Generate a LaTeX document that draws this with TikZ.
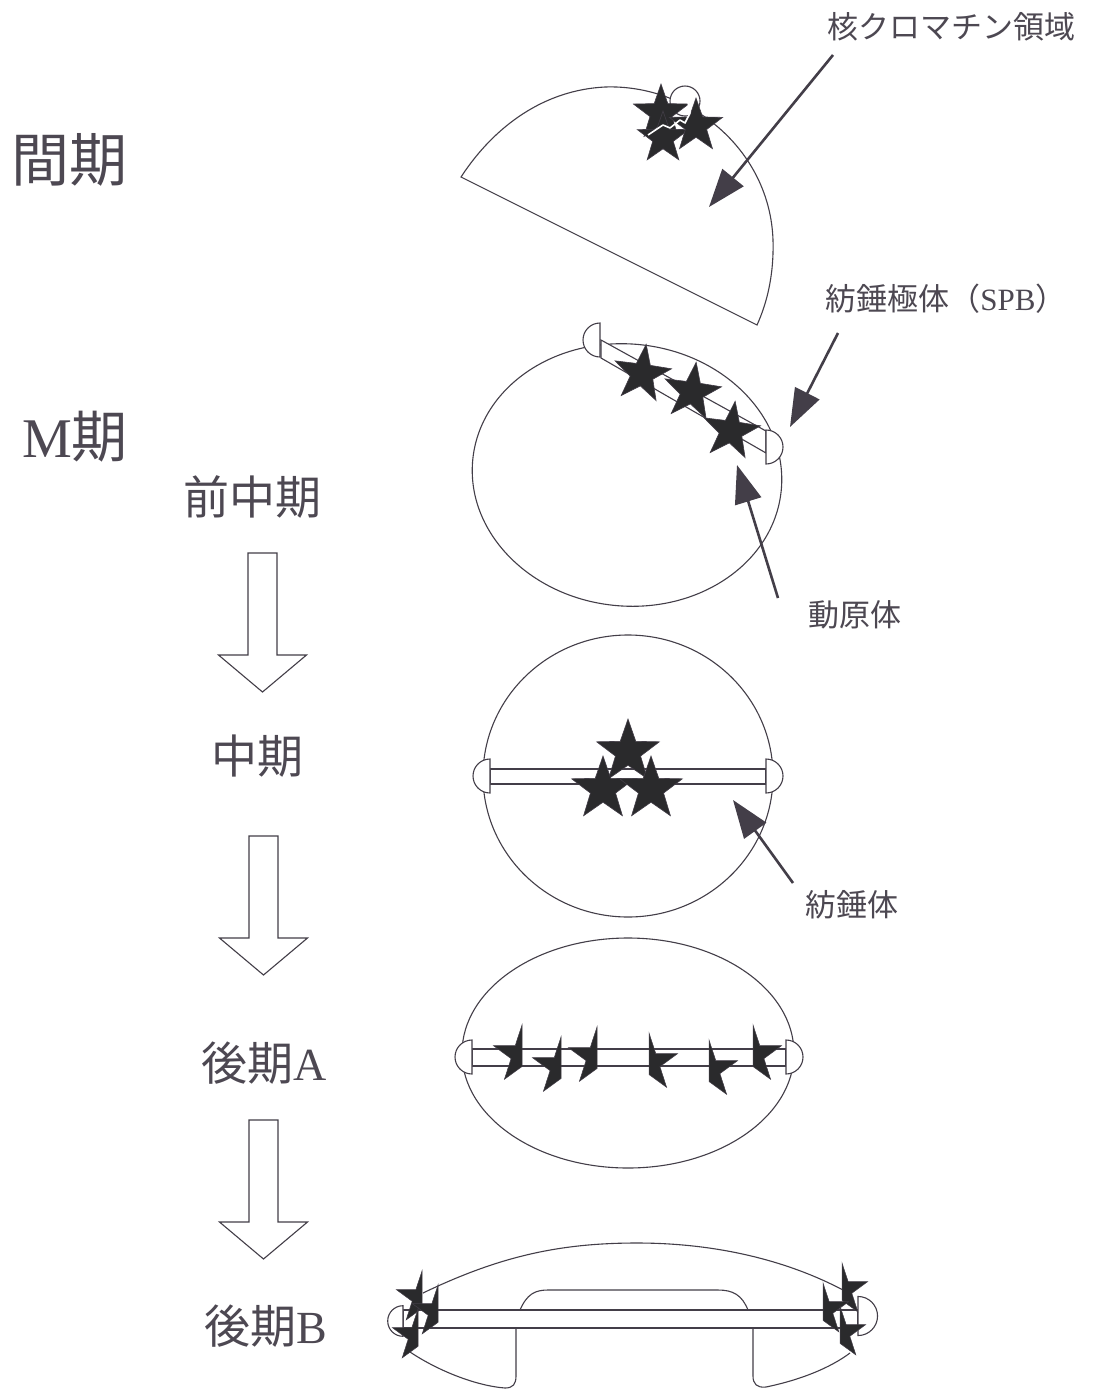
\documentclass[tikz,border=0pt]{standalone}
\usepackage{fontspec}
\setmainfont{Liberation Serif}
\newfontfamily\jp{Noto Sans CJK JP}
\usetikzlibrary{shapes.geometric,arrows.meta}
\definecolor{ink}{HTML}{433E48}
\definecolor{starfill}{HTML}{2A2A2C}
\definecolor{txt}{HTML}{4D4852}

\tikzset{
  cell/.style={draw=ink, line width=1.1pt},
  outline/.style={draw=ink, line width=1.1pt, fill=white},
  chromo/.style={star, star points=5, star point ratio=2.5, fill=starfill,
    draw=ink, line width=0.6pt, inner sep=0pt},
  ptr/.style={draw=ink, line width=2.6pt, -{Triangle[length=38pt,width=27pt]}},
  phase/.style={text=txt, inner sep=0pt},
  lbl/.style={text=txt, inner sep=0pt, font=\jp\fontsize{31}{33}\selectfont},
  % hollow block arrow between the phase names
  downarrow/.pic={
    \draw[outline] (-14.5,0) -- (-14.5,102) -- (-44,102) -- (0,139)
      -- (44,102) -- (14.5,102) -- (14.5,0) -- cycle;},
  % left and right halves of a separated chromosome star
  halfL/.pic={
    \draw[fill=starfill, draw=ink, line width=0.5pt] (0,-30) -- (-6.8,-9.3) -- (-28.5,-9.3)
      -- (-10.9,3.6) -- (-17.6,24.3) -- (0,11.5) -- cycle;},
  halfR/.pic={
    \draw[fill=starfill, draw=ink, line width=0.5pt] (0,-30) -- (6.8,-9.3) -- (28.5,-9.3)
      -- (10.9,3.6) -- (17.6,24.3) -- (0,11.5) -- cycle;},
  % spindle pole bodies: half discs with the flat side facing the spindle
  spbL/.pic={
    \draw[outline] (0,-17) arc[start angle=270, end angle=90, radius=17] -- cycle;},
  spbR/.pic={
    \draw[outline] (0,-17) arc[start angle=-90, end angle=90, radius=17] -- cycle;},
}

\begin{document}
\begin{tikzpicture}[x=1pt,y=-1pt]
\useasboundingbox[fill=white] (0,0) rectangle (1096,1390);

% ---------- phase names ----------
\node[phase, font=\jp\fontsize{58}{60}\selectfont] (interphase) at (70,160) {間期};
\node[phase, font=\fontsize{56}{58}\selectfont] (mphase) at (75,437) {M{\jp 期}};
\node[phase, font=\jp\fontsize{46}{48}\selectfont] (prometa) at (252,497) {前中期};
\node[phase, font=\jp\fontsize{46}{48}\selectfont] (meta) at (257,756) {中期};
\node[phase, font=\fontsize{46}{48}\selectfont] (anaA) at (264,1063) {{\jp 後期}A};
\node[phase, font=\fontsize{46}{48}\selectfont] (anaB) at (266,1326) {{\jp 後期}B};

\pic (step1) at (262.5,553) {downarrow};
\pic (step2) at (263.5,836) {downarrow};
\pic (step3) at (263.5,1120) {downarrow};

% ---------- interphase nucleus ----------
\draw[cell] (461,177) .. controls (495,125) and (545,90) .. (605,87)
  .. controls (690,84) and (770,150) .. (773,240)
  .. controls (774,275) and (767,303) .. (757,325) -- cycle;
\draw[outline] (685,101) circle[radius=15];
\node[chromo, minimum size=58pt] (ia) at (661,113) {};
\node[chromo, minimum size=54pt] (ib) at (663,138) {};
\node[chromo, minimum size=56pt] (ic) at (696,126) {};
\draw[white, line width=1.6pt, line join=round] (648,135) -- (663,125) -- (670,128)
  -- (680,120) -- (685,123) -- (690,113) -- (688,102);

% ---------- prometaphase ----------
\draw[cell, rotate around={-6:(627,475)}] (627,475) ellipse[x radius=155, y radius=131];
\draw[outline] (601,340) -- (766,431) -- (766,453) -- (601,358) -- cycle;
\pic (pspbL) at (600,340) {spbL};
\pic (pspbR) at (766,447) {spbR};
\node[chromo, minimum size=60pt, rotate=-8] (pa) at (642,374) {};
\node[chromo, minimum size=60pt, rotate=-8] (pb) at (692,392) {};
\node[chromo, minimum size=60pt, rotate=-8] (pc) at (731,431) {};

% ---------- metaphase ----------
\draw[cell] (628,776) ellipse[x radius=145, y radius=141];
\draw[outline] (490,769) rectangle (766,784);
\pic (mspbL) at (490,776) {spbL};
\pic (mspbR) at (766,776) {spbR};
\node[chromo, minimum size=66pt] (ma) at (628,752) {};
\node[chromo, minimum size=66pt] (mb) at (603,789) {};
\node[chromo, minimum size=66pt] (mc) at (651,789) {};

% ---------- anaphase A ----------
\draw[cell] (628,1053) ellipse[x radius=166, y radius=115];
\draw[outline] (472,1049) rectangle (786,1066);
\pic (aspbL) at (472,1057) {spbL};
\pic (aspbR) at (786,1057) {spbR};
\pic (h1) at (522,1055) {halfL};
\pic (h2) at (561,1067) {halfL};
\pic (h3) at (597,1057) {halfL};
\pic (h4) at (649,1063) {halfR};
\pic (h5) at (709,1070) {halfR};
\pic (h6) at (753,1055) {halfR};

% ---------- anaphase B ----------
\draw[cell] (423,1293) .. controls (500,1256) and (560,1243) .. (637,1243)
  .. controls (720,1243) and (790,1262) .. (843,1290);
\draw[cell] (410,1352) .. controls (440,1372) and (478,1386) .. (505,1388)
  .. controls (513,1388) and (516,1384) .. (516,1376) -- (516,1328);
\draw[cell] (753,1328) -- (753,1376) .. controls (753,1384) and (757,1388) .. (766,1387)
  .. controls (800,1380) and (830,1368) .. (850,1353);
\draw[cell] (520,1310) .. controls (527,1294) and (535,1290) .. (548,1290)
  -- (718,1290) .. controls (733,1290) and (742,1295) .. (748,1310);
\draw[outline] (403,1310) rectangle (858,1328);
\pic[scale=0.9] (bspbL) at (403,1321) {spbL};
\pic[scale=1.15] (bspbR) at (858,1316) {spbR};
\pic[scale=0.9] (b1) at (422,1298) {halfL};
\pic[scale=0.9] (b2) at (438,1312) {halfL};
\pic[scale=0.9] (b3) at (418,1336) {halfL};
\pic[scale=0.9] (b4) at (842,1290) {halfR};
\pic[scale=0.9] (b5) at (823,1310) {halfR};
\pic[scale=0.9] (b6) at (840,1333) {halfR};

% ---------- labels and pointers ----------
\node[lbl] (chrom) at (951,27) {核クロマチン領域};
\node[lbl] (spb) at (946,299) {紡錘極体（{\rmfamily SPB}）};
\node[lbl] (kin) at (855,615) {動原体};
\node[lbl] (spin) at (852,905) {紡錘体};

\coordinate (chromA) at (833,55);   \coordinate (chromT) at (709,207);
\coordinate (spbA) at (838,333);    \coordinate (spbT) at (790,427);
\coordinate (kinA) at (778,598);    \coordinate (kinT) at (737,465);
\coordinate (spinA) at (793,883);   \coordinate (spinT) at (733,800);
\draw[ptr] (chromA) -- (chromT);
\draw[ptr] (spbA) -- (spbT);
\draw[ptr] (kinA) -- (kinT);
\draw[ptr] (spinA) -- (spinT);
\end{tikzpicture}
\end{document}
